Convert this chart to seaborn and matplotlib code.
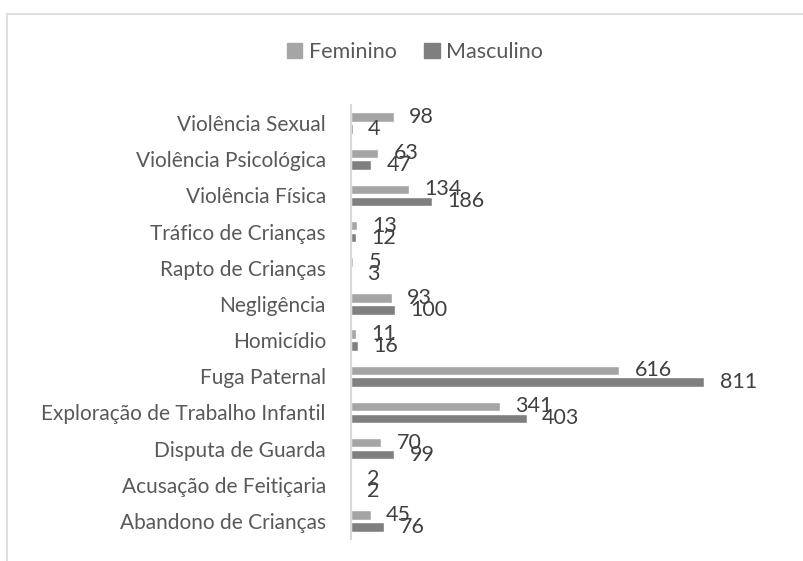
import matplotlib
matplotlib.use("Agg")
import matplotlib.pyplot as plt
import seaborn as sns
import pandas as pd
from matplotlib.lines import Line2D

categories = ["Violência Sexual", "Violência Psicológica", "Violência Física",
              "Tráfico de Crianças", "Rapto de Crianças", "Negligência",
              "Homicídio", "Fuga Paternal", "Exploração de Trabalho Infantil",
              "Disputa de Guarda", "Acusação de Feitiçaria", "Abandono de Crianças"]
feminino = [98, 63, 134, 13, 5, 93, 11, 616, 341, 70, 2, 45]
masculino = [4, 47, 186, 12, 3, 100, 16, 811, 403, 99, 2, 76]
series = ["Feminino", "Masculino"]
colors = ["#A5A5A5", "#7F7F7F"]

df = pd.DataFrame({
    "Categoria": categories * 2,
    "Valor": feminino + masculino,
    "Sexo": [series[0]] * len(categories) + [series[1]] * len(categories),
})

sns.set_theme(style="white")
plt.rcParams['font.family'] = ['Lato', 'DejaVu Sans']

fig = plt.figure(figsize=(8.04, 5.61), dpi=100)
ax = fig.add_axes([351/804, 1-539/561, (743-351)/804, (539-105)/561])

sns.barplot(data=df, y="Categoria", x="Valor", hue="Sexo", order=categories,
            hue_order=series, palette=colors, width=0.66, gap=0.2,
            orient="h", ax=ax, legend=False, saturation=1)

for cont in ax.containers:
    ax.bar_label(cont, padding=11, fontsize=15.5, color="#404040")

ax.set_xlim(0, 900)
ax.set_xlabel("")
ax.set_ylabel("")
ax.set_xticks([])
ax.tick_params(axis="y", length=0, pad=18, labelsize=15, labelcolor="#595959")
for s in ["top", "right", "bottom"]:
    ax.spines[s].set_visible(False)
ax.spines["left"].set_color("#D9D9D9")
ax.spines["left"].set_linewidth(1.5)

handles = [plt.Rectangle((0, 0), 1, 1, color=c) for c in colors]
fig.legend(handles, series, loc="center", bbox_to_anchor=(415/804, 1-52/561),
           ncol=2, frameon=False, fontsize=15.5, labelcolor="#595959",
           handlelength=0.7, handleheight=0.7, handletextpad=0.3, columnspacing=1.3)

fig.add_artist(Line2D([7/804, 1], [1-14/561, 1-14/561], color="#D9D9D9", lw=1.2, transform=fig.transFigure))
fig.add_artist(Line2D([7/804, 7/804], [0, 1-14/561], color="#D9D9D9", lw=1.2, transform=fig.transFigure))

fig.savefig("out.png", dpi=100)
